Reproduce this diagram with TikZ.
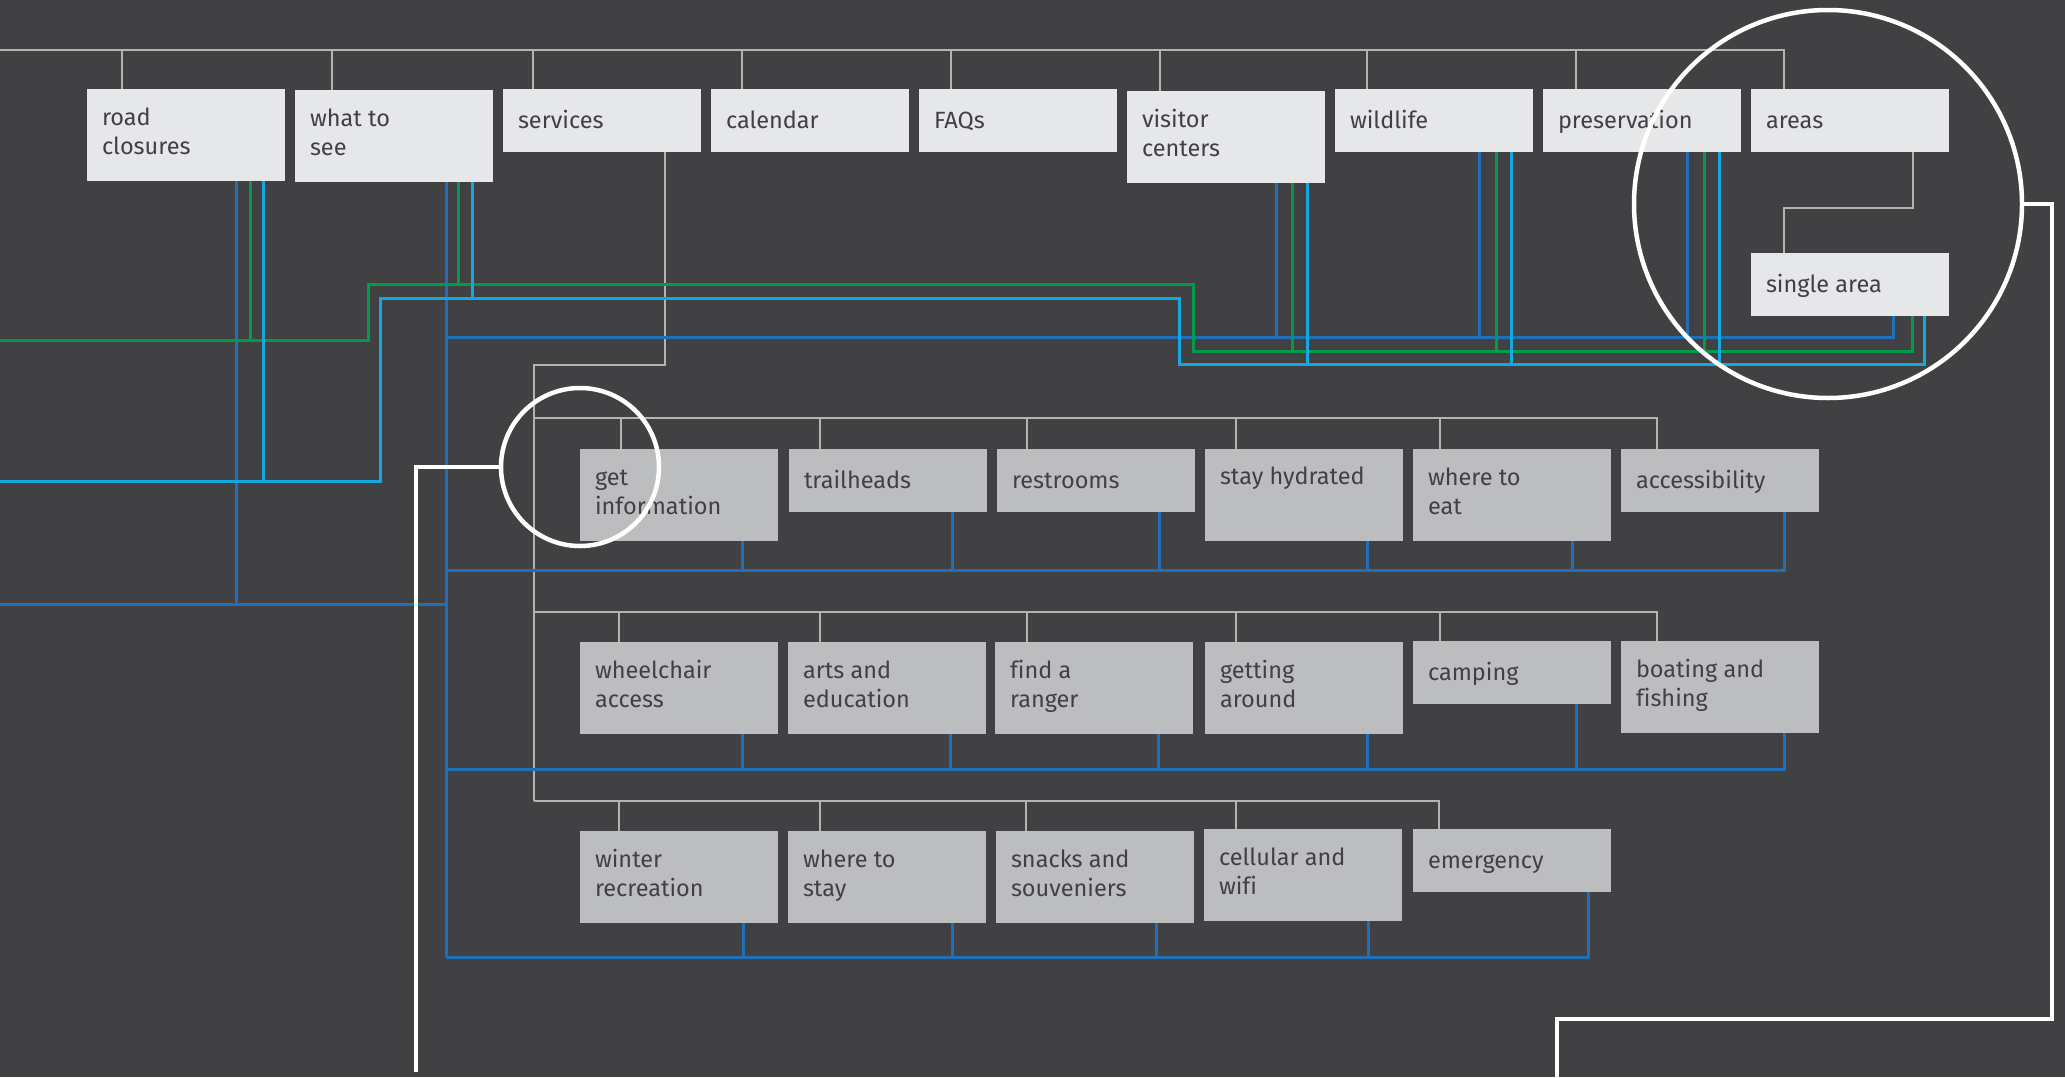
\documentclass[tikz,border=0pt]{standalone}
\usepackage{fontspec}
\setmainfont[Ligatures=NoCommon]{Fira Sans}
\definecolor{bgc}{HTML}{414143}
\definecolor{topfill}{HTML}{E6E7E8}
\definecolor{rowfill}{HTML}{BCBDBF}
\definecolor{txtc}{HTML}{414143}
\definecolor{grayline}{HTML}{B3B3B3}
\definecolor{dblue}{HTML}{1F70B8}
\definecolor{dgreen}{HTML}{009B4B}
\definecolor{cyanl}{HTML}{13A8E0}
\newcommand\bx[7]{%
  \node[#5, minimum height=#4pt] (#1) at (#2,#3) {};
  \node[lbl] (#1-t) at ([xshift=15pt,yshift=-#6pt]#1.north west) {\strut #7};}
\begin{document}
\begin{tikzpicture}[x=1pt,y=-1pt,
  topbox/.style={rectangle, fill=topfill, minimum width=198pt, inner sep=0pt, outer sep=0pt, anchor=north west},
  rowbox/.style={rectangle, fill=rowfill, minimum width=198pt, inner sep=0pt, outer sep=0pt, anchor=north west},
  lbl/.style={anchor=north west, inner sep=0pt, outer sep=0pt, align=left, text=txtc, font=\fontsize{23.5}{29}\selectfont},
  gl/.style={draw=grayline, line width=2.8pt},
  bl/.style={draw=dblue, line width=3pt},
  gr/.style={draw=dgreen, line width=3pt},
  cy/.style={draw=cyanl, line width=3pt},
  hl/.style={draw=white, line width=4.5pt},
  hline/.style={draw=white, line width=4pt}]
\fill[bgc] (0,0) rectangle (2065,1077);
\useasboundingbox (0,0) rectangle (2065,1077);

% ---------- bus coordinates ----------
\coordinate (top0) at (0,50);
\coordinate (sj) at (534,365);
\coordinate (r1s) at (534,418);
\coordinate (r2s) at (534,612);
\coordinate (r3s) at (534,801);
\coordinate (bL) at (0,604);
\coordinate (bT) at (446,337);
\coordinate (b1) at (446,570);
\coordinate (b2) at (446,769);
\coordinate (b3) at (446,957);
\coordinate (gL) at (0,340);
\coordinate (g1) at (368,284);
\coordinate (g2) at (1193,351);
\coordinate (cL) at (0,481);
\coordinate (c1) at (380,298);
\coordinate (c2) at (1179,364);

% ---------- boxes ----------
\bx{rc}{87}{89}{92}{topbox}{15.7}{road\\closures}
\bx{wts}{295}{90}{92}{topbox}{15.7}{what to\\see}
\bx{svc}{503}{89}{63}{topbox}{19.2}{services}
\bx{cal}{711}{89}{63}{topbox}{19.2}{calendar}
\bx{faq}{919}{89}{63}{topbox}{19.2}{FAQs}
\bx{vis}{1127}{91}{92}{topbox}{15.7}{visitor\\centers}
\bx{wild}{1335}{89}{63}{topbox}{19.2}{wildlife}
\bx{pres}{1543}{89}{63}{topbox}{19.2}{preservation}
\bx{areas}{1751}{89}{63}{topbox}{19.2}{areas}
\bx{sa}{1751}{253}{63}{topbox}{19.2}{single area}

\bx{gi}{580}{449}{92}{rowbox}{15.7}{get\\information}
\bx{trail}{789}{449}{63}{rowbox}{18.7}{trailheads}
\bx{rest}{997}{449}{63}{rowbox}{18.7}{restrooms}
\bx{hyd}{1205}{449}{92}{rowbox}{15.2}{stay hydrated}
\bx{eat}{1413}{449}{92}{rowbox}{15.7}{where to\\eat}
\bx{acc}{1621}{449}{63}{rowbox}{19.2}{accessibility}

\bx{wheel}{580}{642}{92}{rowbox}{15.7}{wheelchair\\access}
\bx{arts}{788}{642}{92}{rowbox}{15.7}{arts and\\education}
\bx{ranger}{995}{642}{92}{rowbox}{15.7}{find a\\ranger}
\bx{around}{1205}{642}{92}{rowbox}{15.7}{getting\\around}
\bx{camp}{1413}{641}{63}{rowbox}{18.7}{camping}
\bx{boat}{1621}{641}{92}{rowbox}{15.7}{boating and\\fishing}

\bx{winter}{580}{831}{92}{rowbox}{15.7}{winter\\recreation}
\bx{stay}{788}{831}{92}{rowbox}{15.7}{where to\\stay}
\bx{snacks}{996}{831}{92}{rowbox}{15.7}{snacks and\\souveniers}
\bx{cell}{1204}{829}{92}{rowbox}{15.7}{cellular and\\wifi}
\bx{em}{1413}{829}{63}{rowbox}{19.2}{emergency}

% ---------- gray hierarchy ----------
\draw[gl] ([xshift=33pt]areas.north west) |- (top0);
\draw[gl] ([xshift=35pt]rc.north west) |- (top0);
\draw[gl] ([xshift=37pt]wts.north west) |- (top0);
\draw[gl] ([xshift=30pt]svc.north west) |- (top0);
\draw[gl] ([xshift=31pt]cal.north west) |- (top0);
\draw[gl] ([xshift=32pt]faq.north west) |- (top0);
\draw[gl] ([xshift=33pt]vis.north west) |- (top0);
\draw[gl] ([xshift=32pt]wild.north west) |- (top0);
\draw[gl] ([xshift=33pt]pres.north west) |- (top0);
\draw[gl] ([xshift=162pt]areas.south west) -- ++(0,56) -| ([xshift=33pt]sa.north west);
\draw[gl] ([xshift=162pt]svc.south west) |- (sj) -- (r3s);
% row 1
\draw[gl] ([xshift=36pt]acc.north west) |- (r1s);
\draw[gl] ([xshift=41pt]gi.north west) |- (r1s);
\draw[gl] ([xshift=31pt]trail.north west) |- (r1s);
\draw[gl] ([xshift=30pt]rest.north west) |- (r1s);
\draw[gl] ([xshift=31pt]hyd.north west) |- (r1s);
\draw[gl] ([xshift=27pt]eat.north west) |- (r1s);
% row 2
\draw[gl] ([xshift=36pt]boat.north west) |- (r2s);
\draw[gl] ([xshift=39pt]wheel.north west) |- (r2s);
\draw[gl] ([xshift=32pt]arts.north west) |- (r2s);
\draw[gl] ([xshift=32pt]ranger.north west) |- (r2s);
\draw[gl] ([xshift=31pt]around.north west) |- (r2s);
\draw[gl] ([xshift=27pt]camp.north west) |- (r2s);
% row 3
\draw[gl] ([xshift=26pt]em.north west) |- (r3s);
\draw[gl] ([xshift=39pt]winter.north west) |- (r3s);
\draw[gl] ([xshift=32pt]stay.north west) |- (r3s);
\draw[gl] ([xshift=30pt]snacks.north west) |- (r3s);
\draw[gl] ([xshift=32pt]cell.north west) |- (r3s);

% ---------- dark blue ----------
\draw[bl] ([xshift=149pt]rc.south west) |- (bL);
\draw[bl] ([xshift=151pt]wts.south west) |- (bL);
\draw[bl] ([xshift=151pt]wts.south west) -- (b3);
\draw[bl] ([xshift=142pt]sa.south west) |- (bT);
\draw[bl] ([xshift=149pt]vis.south west) |- (bT);
\draw[bl] ([xshift=144pt]wild.south west) |- (bT);
\draw[bl] ([xshift=144pt]pres.south west) |- (bT);
% row 1
\draw[bl] ([xshift=163pt]acc.south west) |- (b1);
\draw[bl] ([xshift=162pt]gi.south west) |- (b1);
\draw[bl] ([xshift=163pt]trail.south west) |- (b1);
\draw[bl] ([xshift=162pt]rest.south west) |- (b1);
\draw[bl] ([xshift=162pt]hyd.south west) |- (b1);
\draw[bl] ([xshift=159pt]eat.south west) |- (b1);
% row 2
\draw[bl] ([xshift=163pt]boat.south west) |- (b2);
\draw[bl] ([xshift=162pt]wheel.south west) |- (b2);
\draw[bl] ([xshift=162pt]arts.south west) |- (b2);
\draw[bl] ([xshift=163pt]ranger.south west) |- (b2);
\draw[bl] ([xshift=162pt]around.south west) |- (b2);
\draw[bl] ([xshift=163pt]camp.south west) |- (b2);
% row 3
\draw[bl] ([xshift=175pt]em.south west) |- (b3);
\draw[bl] ([xshift=163pt]winter.south west) |- (b3);
\draw[bl] ([xshift=164pt]stay.south west) |- (b3);
\draw[bl] ([xshift=160pt]snacks.south west) |- (b3);
\draw[bl] ([xshift=164pt]cell.south west) |- (b3);

% ---------- green ----------
\draw[gr] (gL) -| (g1) -| (g2) -| ([xshift=161pt]sa.south west);
\draw[gr] ([xshift=163pt]rc.south west) |- (gL);
\draw[gr] ([xshift=163pt]wts.south west) |- (g1);
\draw[gr] ([xshift=165pt]vis.south west) |- (g2);
\draw[gr] ([xshift=161pt]wild.south west) |- (g2);
\draw[gr] ([xshift=161pt]pres.south west) |- (g2);

% ---------- cyan ----------
\draw[cy] (cL) -| (c1) -| (c2) -| ([xshift=173pt]sa.south west);
\draw[cy] ([xshift=176pt]rc.south west) |- (cL);
\draw[cy] ([xshift=177pt]wts.south west) |- (c1);
\draw[cy] ([xshift=180pt]vis.south west) |- (c2);
\draw[cy] ([xshift=176pt]wild.south west) |- (c2);
\draw[cy] ([xshift=176pt]pres.south west) |- (c2);

% ---------- white highlights ----------
\node[hl, circle, minimum size=388pt, inner sep=0pt] (hlA) at (1828,204) {};
\node[hl, circle, minimum size=158pt, inner sep=0pt] (hlB) at (580,467) {};
\coordinate (wA1) at (2052,1019);
\coordinate (wAend) at (1557,1077);
\coordinate (wBend) at (416,1072);
\draw[hline] (hlA.east) -| (wA1) -| (wAend);
\draw[hline] (hlB.west) -| (wBend);
\end{tikzpicture}
\end{document}
